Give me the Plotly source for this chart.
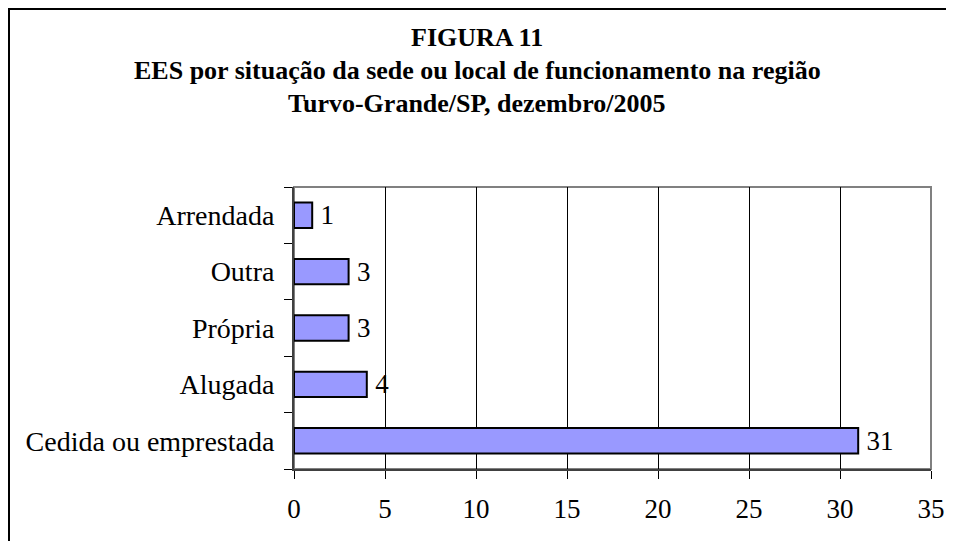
import plotly.graph_objects as go

categories = ["Cedida ou emprestada", "Alugada", "Própria", "Outra", "Arrendada"]
values = [31, 4, 3, 3, 1]
x_ticks = [0, 5, 10, 15, 20, 25, 30, 35]
title_lines = ["FIGURA 11",
               "EES por situação da sede ou local de funcionamento na região",
               "Turvo-Grande/SP, dezembro/2005"]

W, H = 960, 550
ML, MT = 286, 179
pw, ph = 637, 282
MR, MB = W - ML - pw, H - MT - ph
FONT = "Liberation Serif, Times New Roman, serif"

fig = go.Figure(go.Bar(
    y=categories, x=values, orientation="h",
    marker=dict(color="#9999FF", line=dict(color="black", width=2)),
    text=["\u2009" + str(v) for v in values], textposition="outside",
    textfont=dict(family=FONT, size=27, color="black"),
    constraintext="none",
    cliponaxis=False, width=0.45,
))

fig.update_layout(
    width=W, height=H,
    margin=dict(l=ML, r=MR, t=MT, b=MB),
    paper_bgcolor="white", plot_bgcolor="white",
    showlegend=False,
    font=dict(family=FONT, size=27, color="black"),
    xaxis=dict(range=[0, 35], tickvals=x_ticks, showgrid=True, gridcolor="black", gridwidth=1,
               showline=True, linecolor="#404040", linewidth=2, ticks="outside", ticklen=8,
               tickcolor="black", tickwidth=1, zeroline=False, ticklabelstandoff=7,
               tickfont=dict(family=FONT, size=27)),
    yaxis=dict(showgrid=False, showline=True, linecolor="#404040", linewidth=2,
               ticks="outside", ticklen=8, tickcolor="black", tickson="boundaries",
               ticklabelstandoff=12, tickfont=dict(family=FONT, size=28)),
    annotations=[
        dict(text="<b>" + t + "</b>", xref="paper", yref="paper",
             x=(469 - ML) / pw, y=1 + (MT - yy) / ph, xanchor="center", yanchor="middle",
             showarrow=False, font=dict(family=FONT, size=26, color="black"))
        for t, yy in zip(title_lines, [29, 62, 95])
    ],
    shapes=[
        dict(type="rect", xref="paper", yref="paper", x0=0, x1=1, y0=0, y1=1,
             line=dict(color="#808080", width=2), layer="below"),
        dict(type="rect", xref="paper", yref="paper",
             x0=-(ML - 1) / pw, x1=1 + (MR - 1) / pw,
             y0=-(MB - 1) / ph, y1=1 + (MT - 1) / ph,
             line=dict(color="black", width=2)),
    ],
)

fig.write_html("out.html")
